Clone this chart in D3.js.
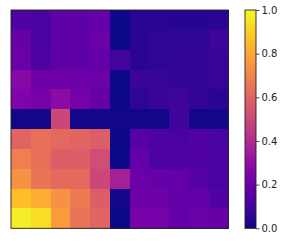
<!DOCTYPE html>
<html>
<head>
<meta charset="utf-8">
<script src="https://cdn.jsdelivr.net/npm/d3@7"></script>
<style>
  body { margin: 0; background: #fff; }
  text { font-family: "DejaVu Sans", sans-serif; }
</style>
</head>
<body>
<svg id="chart" width="285" height="241"></svg>
<script>
// heatmap values, rows top to bottom
let rows = [0, 1, 2, 3, 4, 5, 6, 7, 8, 9, 10];
let cols = [0, 1, 2, 3, 4, 5, 6, 7, 8, 9, 10];
let values = [
    [0.14, 0.12, 0.17, 0.17, 0.18, 0.00, 0.05, 0.05, 0.04, 0.04, 0.05],
    [0.19, 0.12, 0.17, 0.17, 0.20, 0.00, 0.05, 0.06, 0.06, 0.06, 0.09],
    [0.20, 0.13, 0.17, 0.17, 0.18, 0.10, 0.05, 0.06, 0.07, 0.07, 0.08],
    [0.28, 0.21, 0.21, 0.20, 0.20, 0.00, 0.08, 0.08, 0.07, 0.07, 0.08],
    [0.25, 0.23, 0.29, 0.23, 0.19, 0.00, 0.06, 0.08, 0.09, 0.07, 0.05],
    [0.01, 0.01, 0.50, 0.01, 0.01, 0.01, 0.01, 0.01, 0.09, 0.01, 0.01],
    [0.60, 0.64, 0.61, 0.60, 0.58, 0.00, 0.15, 0.13, 0.12, 0.14, 0.12],
    [0.68, 0.64, 0.58, 0.58, 0.52, 0.00, 0.18, 0.13, 0.13, 0.14, 0.12],
    [0.74, 0.65, 0.62, 0.62, 0.50, 0.36, 0.20, 0.19, 0.18, 0.15, 0.12],
    [0.86, 0.82, 0.74, 0.67, 0.58, 0.01, 0.21, 0.21, 0.18, 0.18, 0.14],
    [0.97, 0.93, 0.77, 0.65, 0.60, 0.00, 0.23, 0.23, 0.18, 0.20, 0.19]
];
let colorTicks = [0, 0.2, 0.4, 0.6, 0.8, 1.0];

let svg = d3.select("#chart");

let plot = {left: 11, right: 228.3, top: 10, bottom: 228.3};
let xScale = d3.scaleBand().domain(cols).range([plot.left, plot.right]);
let yScale = d3.scaleBand().domain(rows).range([plot.top, plot.bottom]);
let color = d3.scaleSequential(d3.interpolatePlasma).domain([0, 1]);

let cells = [];
values.forEach(function (row, r) {
    row.forEach(function (v, c) {
        cells.push({r: r, c: c, v: v});
    });
});

svg.append("g")
    .selectAll("rect")
    .data(cells)
    .enter().append("rect")
    .attr("x", function (d) { return xScale(d.c); })
    .attr("y", function (d) { return yScale(d.r); })
    .attr("width", xScale.bandwidth() + 0.5)
    .attr("height", yScale.bandwidth() + 0.5)
    .attr("fill", function (d) { return color(d.v); })
    .attr("shape-rendering", "crispEdges");

// frame
svg.append("rect")
    .attr("x", plot.left)
    .attr("y", plot.top)
    .attr("width", plot.right - plot.left)
    .attr("height", plot.bottom - plot.top)
    .attr("fill", "none")
    .attr("stroke", "#222")
    .attr("stroke-width", 0.9);

// colorbar
let cb = {left: 245, right: 256, top: 10, bottom: 228.3};
let cbScale = d3.scaleLinear().domain([0, 1]).range([cb.bottom, cb.top]);

let grad = svg.append("defs").append("linearGradient")
    .attr("id", "plasma")
    .attr("x1", 0).attr("y1", 1).attr("x2", 0).attr("y2", 0);
d3.range(0, 1.001, 0.05).forEach(function (t) {
    grad.append("stop").attr("offset", t).attr("stop-color", color(t));
});

svg.append("rect")
    .attr("x", cb.left)
    .attr("y", cb.top)
    .attr("width", cb.right - cb.left)
    .attr("height", cb.bottom - cb.top)
    .attr("fill", "url(#plasma)")
    .attr("stroke", "#222")
    .attr("stroke-width", 0.9);

let cbAxis = d3.axisRight(cbScale)
    .tickValues(colorTicks)
    .tickFormat(d3.format(".1f"))
    .tickSize(3.5)
    .tickPadding(2);

let axisG = svg.append("g")
    .attr("transform", "translate(" + cb.right + ",0)")
    .call(cbAxis);
axisG.select(".domain").remove();
axisG.selectAll("line").attr("stroke", "#222").attr("stroke-width", 0.8);
axisG.selectAll("text")
    .attr("font-size", 10)
    .attr("font-family", "DejaVu Sans")
    .attr("fill", "#222");
</script>
</body>
</html>
